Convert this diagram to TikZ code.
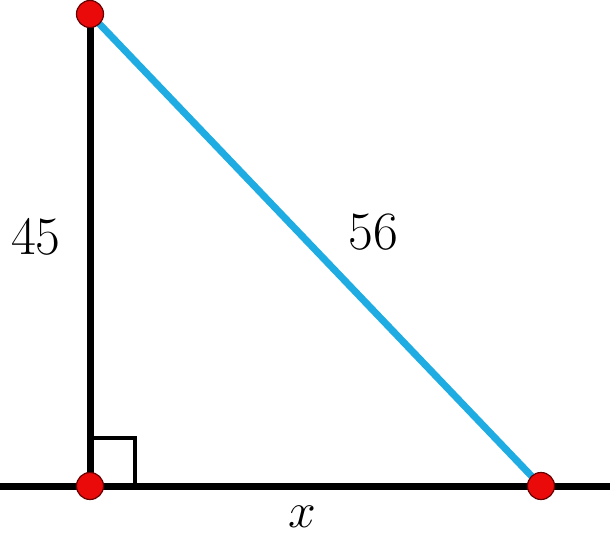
\documentclass[tikz,border=0pt]{standalone}
\usepackage{xcolor}
\definecolor{hypblue}{RGB}{30,172,226}
\definecolor{dotred}{RGB}{235,10,10}
\tikzset{
  vertex/.style={circle, fill=dotred, draw=black!60!red, line width=0.6pt, minimum size=13.5pt, inner sep=0pt},
  side/.style={line width=3.5pt},
  lbl/.style={font=\fontsize{27}{31}\selectfont, inner sep=0pt}
}
\begin{document}
\begin{tikzpicture}[x=0.5pt, y=-0.5pt]
\useasboundingbox (0,0) rectangle (610,537);
% ground line and points
\coordinate (L) at (-5,486);
\coordinate (R) at (615,486);
\coordinate (A) at (90,14);
\coordinate (B) at (90,486);
\coordinate (C) at (541,486);
\draw[side] (L) -- (R);
\draw[side] (A) -- (B);
\draw[side, hypblue] (A) -- (C);
% right angle mark
\draw[line width=2pt] (91,486) -- (91,438) -- (135,438) -- (135,486);
% vertices
\node[vertex] (va) at (A) {};
\node[vertex] (vb) at (B) {};
\node[vertex] (vc) at (C) {};
% labels
\node[lbl] (sa) at (36,237) {45};
\node[lbl] (sc) at (373,232) {56};
\node[lbl] (sb) at (302,517) {$x$};
\end{tikzpicture}
\end{document}
